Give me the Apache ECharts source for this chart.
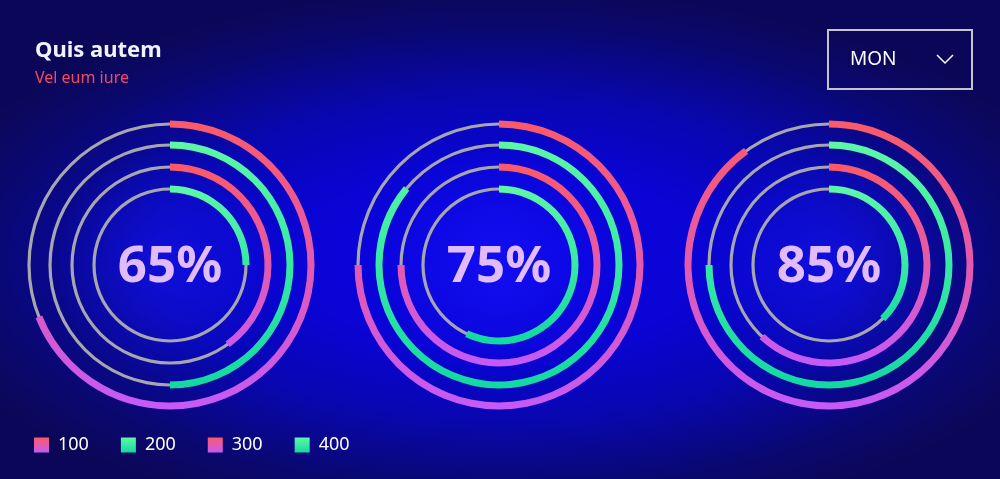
<!DOCTYPE html>
<html>
<head>
<meta charset="utf-8">
<script src="https://cdn.jsdelivr.net/npm/echarts@6/dist/echarts.min.js"></script>
<style>
	html, body {
		margin: 0;
		padding: 0;
		width: 100%;
		height: 100%;
		overflow: hidden;
	}
	body {
		background:
			radial-gradient(circle at 170px 262px, rgba(24, 24, 255, 0.5) 0, rgba(24, 24, 255, 0) 115px),
			radial-gradient(circle at 499px 262px, rgba(24, 24, 255, 0.5) 0, rgba(24, 24, 255, 0) 115px),
			radial-gradient(circle at 829px 262px, rgba(24, 24, 255, 0.5) 0, rgba(24, 24, 255, 0) 115px),
			radial-gradient(ellipse 60% 56% at 50% 54%, #0c04e6 0%, #0a04d4 35%, #0807b0 60%, #0a0872 85%, #0b0758 100%);
		background-color: #0b0758;
	}
	#donut {
		width: 1000px;
		height: 479px;
	}
</style>
</head>
<body>
<div id="donut"></div>
<script>
// 三组同心圆环，每组 4 个环（100 / 200 / 300 / 400）
var centerLabels = ['65%', '75%', '85%'];
var ringNames = ['100', '200', '300', '400'];
var values100 = [69, 75, 90];
var values200 = [50, 86, 75];
var values300 = [40, 75, 62];
var values400 = [25, 57, 37.5];
var dayLabel = 'MON';

var ringValues = [values100, values200, values300, values400];
var centersX = [170, 499, 829];
var centerY = 265;
var radii = [141, 120, 98, 76];
var pinkStops = [{ offset: 0, color: '#fb5a68' }, { offset: 0.5, color: '#e25aae' }, { offset: 1, color: '#c65af6' }];
var greenStops = [{ offset: 0, color: '#5cf7a6' }, { offset: 1, color: '#14d8a2' }];

function ringStops(j) {
	return j % 2 === 0 ? pinkStops : greenStops;
}

var donut = echarts.init(document.getElementById('donut'));

var series = [];
var graphics = [];
for (var i = 0; i < centersX.length; i++) {
	for (var j = 0; j < ringNames.length; j++) {
		var r = radii[j];
		var v = ringValues[j][i];
		// 灰色细底环
		series.push({
			type: 'pie',
			silent: true,
			center: [centersX[i], centerY],
			radius: [r - 1.6, r + 1.6],
			label: { show: false },
			labelLine: { show: false },
			emphasis: { disabled: true },
			itemStyle: { color: '#a6a6ae', borderWidth: 0 },
			data: [{ name: 'track', value: 1 }]
		});
		// 彩色进度环，全局坐标渐变（上红下紫 / 上浅绿下深绿）
		series.push({
			type: 'pie',
			name: ringNames[j],
			silent: true,
			center: [centersX[i], centerY],
			radius: [r - 3.5, r + 3.5],
			startAngle: 90,
			clockwise: true,
			avoidLabelOverlap: false,
			label: { show: false },
			labelLine: { show: false },
			emphasis: { disabled: true },
			data: [{
				name: ringNames[j],
				value: v,
				itemStyle: {
					borderWidth: 0,
					color: new echarts.graphic.LinearGradient(0, centerY - r, 0, centerY + r, ringStops(j), true)
				}
			}, {
				name: 'rest',
				value: 100 - v,
				itemStyle: { color: 'rgba(0,0,0,0)', borderWidth: 0 }
			}]
		});
	}
	graphics.push({
		type: 'text',
		x: centersX[i],
		y: centerY + 2,
		style: {
			text: centerLabels[i],
			fill: '#e2bcfa',
			font: 'bold 51px "Noto Sans"',
			textAlign: 'center',
			textVerticalAlign: 'middle'
		}
	});
}

// 右上角下拉框
graphics.push({
	type: 'rect',
	shape: { x: 828, y: 30, width: 144, height: 59 },
	style: { fill: 'none', stroke: '#c4c4cc', lineWidth: 2 }
}, {
	type: 'text',
	x: 850,
	y: 60,
	style: {
		text: dayLabel,
		fill: '#ffffff',
		font: '19px "Noto Sans"',
		textVerticalAlign: 'middle'
	}
}, {
	type: 'polyline',
	shape: { points: [[937, 55], [945, 63], [953, 55]] },
	style: { stroke: '#ffffff', lineWidth: 1.5, fill: 'none' }
});

var option = {
	animation: false,
	backgroundColor: 'transparent',
	title: {
		text: 'Quis autem',
		subtext: 'Vel eum iure',
		left: 35,
		top: 40,
		padding: 0,
		itemGap: 8,
		textStyle: {
			color: '#f2f2ff',
			fontFamily: 'Noto Sans',
			fontWeight: 'bold',
			fontSize: 22
		},
		subtextStyle: {
			color: '#f44a64',
			fontFamily: 'Noto Sans',
			fontSize: 16
		}
	},
	legend: {
		left: 34,
		top: 436,
		padding: 0,
		itemWidth: 15,
		itemHeight: 15,
		itemGap: 32,
		icon: 'rect',
		selectedMode: false,
		textStyle: {
			color: '#ffffff',
			fontFamily: 'Noto Sans',
			fontSize: 18,
			padding: [0, 0, 0, 4]
		},
		data: ringNames.map(function (name, j) {
			return {
				name: name,
				itemStyle: { color: new echarts.graphic.LinearGradient(0, 0, 0, 1, ringStops(j)) }
			};
		})
	},
	graphic: graphics,
	series: series
};
donut.setOption(option);

window.addEventListener('resize', function() {
	donut.resize();
});
</script>
</body>
</html>
